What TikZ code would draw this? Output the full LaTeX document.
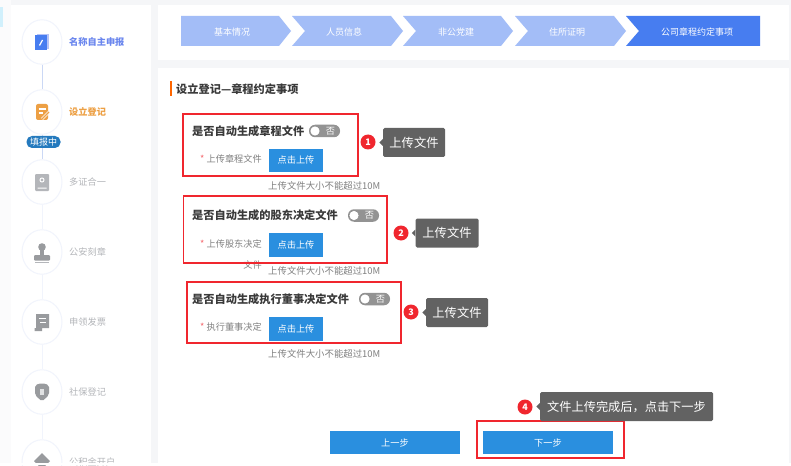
\documentclass[tikz,border=0pt]{standalone}
\usepackage{fontspec}
\usetikzlibrary{shapes.geometric}
\setmainfont{Noto Sans CJK SC}
\definecolor{pagebg}{HTML}{F5F6F8}
\definecolor{stepoff}{HTML}{A3BDF7}
\definecolor{stepon}{HTML}{477DF0}
\definecolor{btnblue}{HTML}{2A8FDF}
\definecolor{markred}{HTML}{F0262E}
\definecolor{tipgrey}{HTML}{626262}
\definecolor{sidegrey}{HTML}{B4B6BA}
\definecolor{sideblue}{HTML}{6A86EE}
\definecolor{sideorange}{HTML}{EDA044}
\definecolor{ringblue}{HTML}{F1F4FC}
\definecolor{linkblue}{HTML}{CBD8F5}
\definecolor{textdark}{HTML}{3A3A3A}
\definecolor{textsoft}{HTML}{808080}
\tikzset{
	sidering/.style={ellipse,draw=ringblue,line width=1pt,fill=white,minimum width=40pt,minimum height=44.5pt,inner sep=0pt},
	sidetext/.style={anchor=west,inner sep=0pt,font=\fontsize{9.2pt}{10pt}\selectfont},
	stepname/.style={text=white,inner sep=0pt,font=\fontsize{9pt}{10pt}\selectfont},
	mainhead/.style={anchor=west,inner sep=0pt,text=textdark,font=\fontsize{11.2pt}{12pt}\selectfont\bfseries},
	uploadname/.style={anchor=east,inner sep=0pt,text=textsoft,font=\fontsize{9.2pt}{10pt}\selectfont},
	hinttext/.style={anchor=west,inner sep=0pt,text=textsoft,font=\fontsize{9.4pt}{10pt}\selectfont},
	bluebtn/.style={fill=btnblue,text=white,inner sep=0pt,minimum width=54pt,minimum height=23.5pt,font=\fontsize{9.2pt}{10pt}\selectfont},
	widebtn/.style={bluebtn,minimum width=130pt,minimum height=23pt},
	redbox/.style={draw=markred,line width=1.6pt,inner sep=0pt},
	badge/.style={circle,fill=markred,text=white,minimum size=15pt,inner sep=0pt,font=\fontsize{9pt}{10pt}\selectfont\bfseries},
	tipbox/.style={fill=tipgrey,text=white,rounded corners=1.5pt,minimum height=29pt,inner sep=0pt,font=\fontsize{12.3pt}{13pt}\selectfont},
	togglepill/.style={fill=textsoft!85,rounded corners=6pt,minimum width=31pt,minimum height=12.5pt,inner sep=0pt},
}
\begin{document}
\begin{tikzpicture}[x=1pt,y=-1pt]
	\useasboundingbox (0,0) rectangle (791,465);

	% page and panels
	\fill[pagebg] (0,0) rectangle (791,465);
	\fill[white!60!pagebg] (0,0) rectangle (11,465);
	\fill[cyan!18] (0,7) rectangle (3,27);
	\fill[white] (11,5) rectangle (151,465);
	\fill[white] (158,5) rectangle (789,60);
	\fill[white] (158,68) rectangle (789,465);

	% side steps
	\foreach \n/\y/\name/\col in {a/42/{\bfseries 名称自主申报}/sideblue,b/112/{\bfseries 设立登记}/sideorange,c/182/多证合一/sidegrey,d/252/公安刻章/sidegrey,e/322/申领发票/sidegrey,f/392/社保登记/sidegrey,g/462/公积金开户/sidegrey}{
		\node [sidering] (ring\n) at (42,\y) {};
		\node [sidetext,text=\col] (side\n) at (69,\y) {\name};
	}
	\draw[linkblue] (ringa) -- (ringb);
	\draw[linkblue] (ringb) -- (ringc);
	\draw[ringblue] (ringc) -- (ringd);
	\draw[ringblue] (ringd) -- (ringe);
	\draw[ringblue] (ringe) -- (ringf);
	\draw[ringblue] (ringf) -- (ringg);

	% side icons
	\fill[sideblue!50] (37,34) rectangle (49,49);
	\fill[stepon] (35,35.5) rectangle (47,50);
	\draw[white,line width=1.2pt] (39.5,45.5) -- (42.5,40);
	\fill[sideorange,rounded corners=2pt] (36,104) -- (48,104) -- (48,120) -- (36,120) -- cycle;
	\draw[white,line width=1.2pt] (38.5,109) -- (45.5,109) (38.5,113) -- (43,113);
	\draw[white,line width=2.8pt] (42,119) -- (49,112);
	\draw[sideorange,line width=1.3pt] (42,119) -- (49,112);
	\fill[sidegrey,rounded corners=1pt] (35,174) rectangle (49,191);
	\draw[white,line width=1pt] (42,180) circle (2pt) (37.5,188) -- (46.5,188);
	\fill[sidegrey!85!black] (42,247) circle (3.8pt);
	\fill[sidegrey!85!black] (40,249) rectangle (44,256);
	\fill[sidegrey!85!black,rounded corners=1pt] (34,255) rectangle (50,260.5);
	\fill[sidegrey] (35,261.5) rectangle (49,263);
	\fill[sidegrey!85!black] (36,314) rectangle (49,328) (34.5,328) rectangle (42,331);
	\draw[white,line width=1pt] (39,318) -- (46,318) (40,322) -- (46,322);
	\fill[sidegrey!85!black] (39,325.5) circle (2.6pt);
	\fill[sidegrey!85!black,rounded corners=2pt] (35,385) -- (42,383) -- (49,385) -- (49,395) -- (42,401.5) -- (35,395) -- cycle;
	\fill[white!60!sidegrey] (40,389) rectangle (44,395);
	\fill[sidegrey!85!black] (42,453) -- (50,461) -- (42,469) -- (34,461) -- cycle;

	% status mark
	\node [fill=btnblue!85!black,text=white,rounded corners=5.5pt,minimum width=34pt,minimum height=12pt,inner sep=0pt,font=\fontsize{9pt}{10pt}\selectfont] (status) at (43.5,142) {填报中};

	% steps along the top
	\fill[stepoff] (181,16) -- (279,16) -- (291,31) -- (279,46) -- (181,46) -- cycle;
	\fill[stepoff] (292,16) -- (391,16) -- (403,31) -- (391,46) -- (292,46) -- (305,31) -- cycle;
	\fill[stepoff] (403,16) -- (501,16) -- (513,31) -- (501,46) -- (403,46) -- (416,31) -- cycle;
	\fill[stepoff] (515,16) -- (614,16) -- (626,31) -- (614,46) -- (515,46) -- (528,31) -- cycle;
	\fill[stepon] (626,16) -- (760,16) -- (760,46) -- (626,46) -- (639,31) -- cycle;
	\node [stepname] (stepa) at (232,32) {基本情况};
	\node [stepname] (stepb) at (344,32) {人员信息};
	\node [stepname] (stepc) at (456,32) {非公党建};
	\node [stepname] (stepd) at (567,32) {住所证明};
	\node [stepname] (stepe) at (697,32) {公司章程约定事项};

	% main heading
	\fill[orange!80!red] (169.5,81) rectangle (171.5,96);
	\node [mainhead] (heading) at (176,89) {设立登记—章程约定事项};

	% first group
	\node [mainhead] (aska) at (192,131) {是否自动生成章程文件};
	\node [uploadname] (upa) at (262,159) {{\color{markred!70}*} 上传章程文件};
	\node [bluebtn] (btna) at (296,160.5) {点击上传};
	\node [hinttext] (hinta) at (268,186) {上传文件大小不能超过10M};
	\node [redbox,minimum width=175pt,minimum height=62pt] (boxa) at (270.5,145) {};
	\node [badge] (marka) at (368,142) {1};
	\node [tipbox,minimum width=62pt] (tipa) at (414,142.5) {上传文件\hspace{4pt}};

	% second group
	\node [mainhead] (askb) at (192,215) {是否自动生成的股东决定文件};
	\node [uploadname] (upb) at (262,244) {{\color{markred!70}*} 上传股东决定};
	\node [uploadname] (upbb) at (262,265) {文件};
	\node [bluebtn] (btnb) at (296,245) {点击上传};
	\node [hinttext] (hintb) at (268,271) {上传文件大小不能超过10M};
	\node [redbox,minimum width=203.5pt,minimum height=67pt] (boxb) at (285.25,229.5) {};
	\node [badge] (markb) at (401,233) {2};
	\node [tipbox,minimum width=63pt] (tipb) at (447,233) {上传文件\hspace{4pt}};

	% third group
	\node [mainhead] (askc) at (192,299) {是否自动生成执行董事决定文件};
	\node [uploadname] (upc) at (262,327) {{\color{markred!70}*} 执行董事决定};
	\node [bluebtn] (btnc) at (296,329) {点击上传};
	\node [hinttext] (hintc) at (268,354) {上传文件大小不能超过10M};
	\node [redbox,minimum width=214pt,minimum height=61pt] (boxc) at (294,312.5) {};
	\node [badge] (markc) at (411,312) {3};
	\node [tipbox,minimum width=62pt] (tipc) at (457,312.5) {上传文件\hspace{4pt}};

	% toggles
	\foreach \n/\x/\y in {a/324.5/131,b/363.5/215.5,c/374.5/299}{
		\node [togglepill] (pill\n) at (\x,\y) {};
		\node [circle,fill=white,draw=textsoft,minimum size=10pt,inner sep=0pt] (knob\n) at ([xshift=-9.5pt]pill\n.center) {};
		\node [text=white,inner sep=0pt,font=\fontsize{9.2pt}{10pt}\selectfont] (off\n) at ([xshift=6pt]pill\n.center) {否};
	}

	% bottom buttons
	\node [widebtn] (prevbtn) at (395,442.5) {上一步};
	\node [widebtn] (nextbtn) at (548,442.5) {下一步};
	\node [redbox,minimum width=147pt,minimum height=37pt] (boxd) at (550.5,439.5) {};
	\node [badge] (markd) at (525,407) {4};
	\node [tipbox,minimum width=173pt,font=\fontsize{12.2pt}{13pt}\selectfont] (tipd) at (626.5,406.5) {文件上传完成后，点击下一步\hspace{4pt}};

	% little tips on the grey boxes
	\foreach \n in {tipa,tipb,tipc,tipd}
		\fill[tipgrey] ([yshift=3.5pt]\n.west) -- ([xshift=-3.5pt]\n.west) -- ([yshift=-3.5pt]\n.west) -- cycle;

	% bottom edge of the screenshot
	\fill[white] (0,462.5) rectangle (791,465);
\end{tikzpicture}
\end{document}
